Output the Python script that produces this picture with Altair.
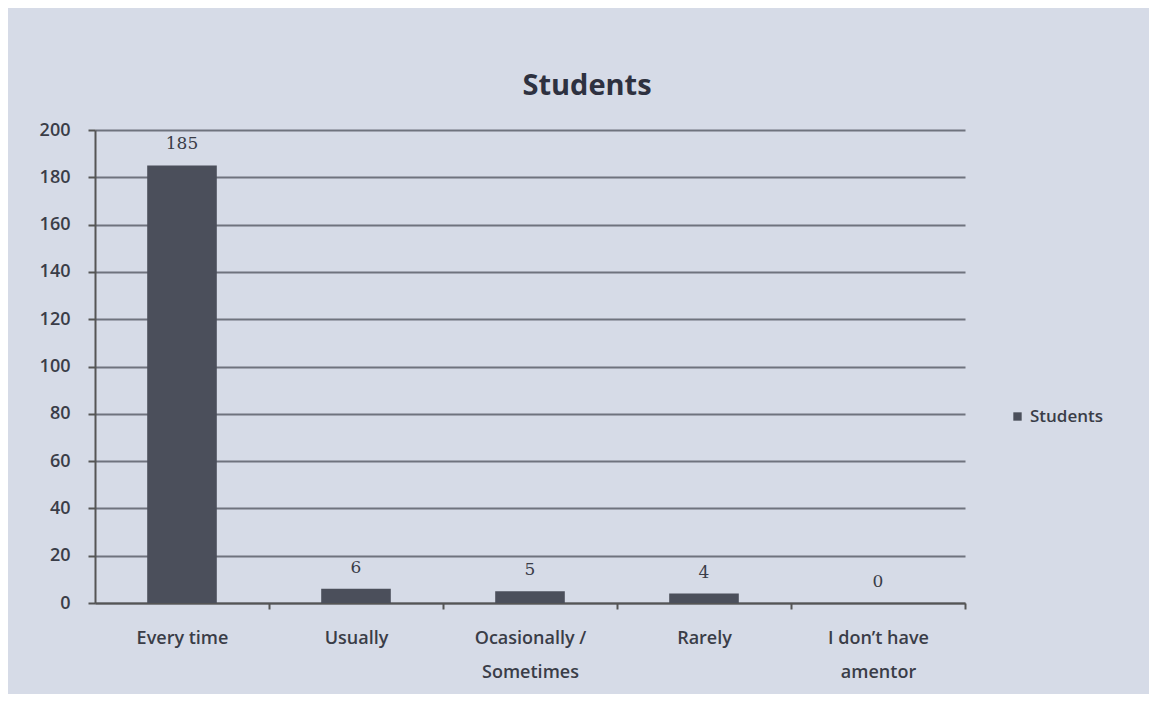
import altair as alt
import pandas as pd

categories = ["Every time", "Usually", "Ocasionally /\nSometimes", "Rarely", "I don\u2019t have\namentor"]
values = [185, 6, 5, 4, 0]
series = ["Students"] * len(categories)

df = pd.DataFrame({"category": categories, "value": values, "series": series})

font = "Open Sans"
text_color = "#3a3d48"

base = alt.Chart(df).encode(
    x=alt.X("category:N", sort=categories, title=None,
            scale=alt.Scale(paddingInner=0.6, paddingOuter=0.3),
            axis=alt.Axis(labelExpr="isValid(datum.value) ? split(datum.value, '\\n') : ''",
                          labelAngle=0,
                          labelFont=font, labelFontSize=18, labelFontWeight=600,
                          labelColor=text_color, labelPadding=20, labelLineHeight=34,
                          domainColor="#555", domainWidth=2, tickOffset=87, labelOffset=-87,
                          tickColor="#555", tickWidth=2, tickSize=6, grid=False)),
)

bars = base.mark_bar(color="#4b4f5b").encode(
    y=alt.Y("value:Q", title=None,
            scale=alt.Scale(domain=[0, 200]),
            axis=alt.Axis(values=list(range(0, 201, 20)), labelFont=font, labelFontSize=18,
                          labelFontWeight=600, labelColor=text_color, labelPadding=18,
                          domainColor="#555", domainWidth=2, tickColor="#555",
                          tickWidth=2, tickSize=7, gridColor="#6f737e", gridWidth=2)),
    color=alt.Color("series:N", title=None,
                    scale=alt.Scale(range=["#4b4f5b"]),
                    legend=alt.Legend(orient="none", legendX=914, legendY=278,
                                      symbolType="square", symbolSize=70,
                                      labelFont=font, labelFontSize=17,
                                      labelFontWeight=600, labelColor=text_color)),
)

labels = base.mark_text(font="DejaVu Serif", fontSize=17, color=text_color, dy=-21).encode(
    y=alt.Y("value:Q"),
    text=alt.Text("value:Q"),
)

chart = (bars + labels).properties(
    width=870, height=473,
    autosize=alt.AutoSizeParams(type="none"),
    padding={"left": 87, "top": 122, "right": 184, "bottom": 91},
    background="#d6dbe7",
    title=alt.TitleParams("Students", font=font, fontSize=29, fontWeight="bold",
                          color="#2e3140", anchor="middle", dx=57, offset=20),
).configure_view(stroke=None)

chart.save("out.html", embed_options={"renderer": "svg", "actions": False})
